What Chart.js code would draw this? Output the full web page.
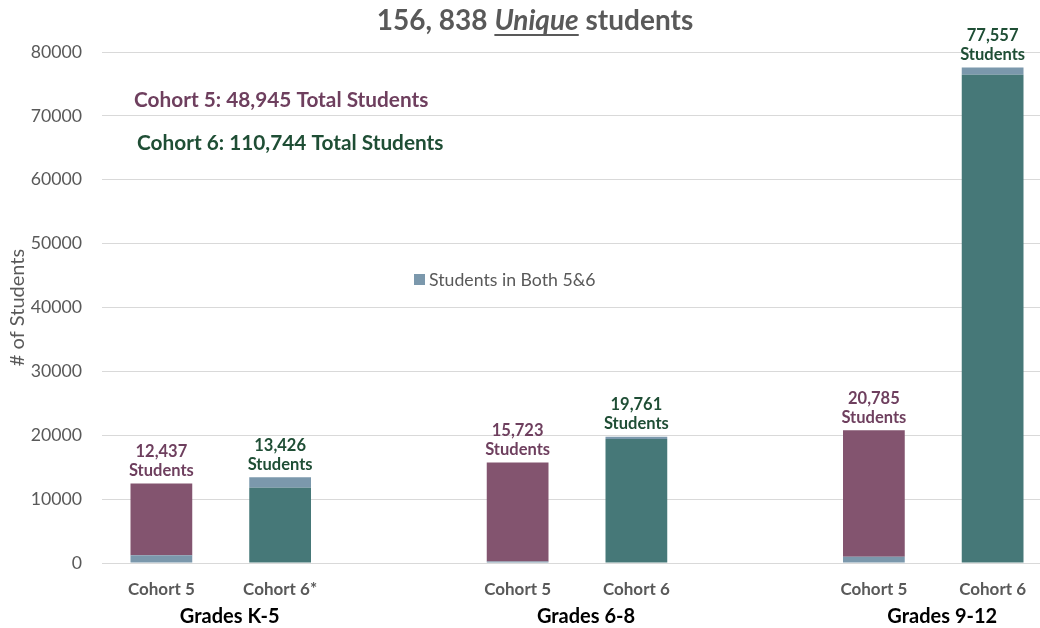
<!DOCTYPE html>
<html><head><meta charset="utf-8">
<script src="https://cdn.jsdelivr.net/npm/chart.js@4.4.0/dist/chart.umd.min.js"></script>
<style>
html,body{margin:0;padding:0;overflow:hidden;background:#fff;width:1040px;height:628px}
#wrap{width:1052px;height:628px;position:relative}
</style></head>
<body><div id="wrap"><canvas id="c"></canvas></div>
<script>
const categories = ["Cohort 5", "Cohort 6*", "", "Cohort 5", "Cohort 6", "", "Cohort 5", "Cohort 6"];
const groups = ["Grades K-5", "Grades 6-8", "Grades 9-12"];
const groupStart = [0, 3, 6];
const bothBottom = [1200, null, null, 250, null, null, 980, null];
const cohort5 = [11237, null, null, 15473, null, null, 19805, null];
const cohort6 = [null, 11800, null, null, 19400, null, null, 76457];
const bothTop = [null, 1626, null, null, 361, null, null, 1100];
const totals = [12437, 13426, null, 15723, 19761, null, 20785, 77557];
const cohortTotals = [48945, 110744];
const yTicks = [0, 10000, 20000, 30000, 40000, 50000, 60000, 70000, 80000];

const BOTH = '#7B98AC', PURPLE = '#83546F', TEAL = '#467878';
const PTXT = '#6E3F5E', GTXT = '#1F4E35', GRAY = '#595959';
const FONT = 'Lato, "Open Sans", sans-serif';
const fmt = v => v.toLocaleString('en-US');

const overlay = {
  id: 'overlay',
  afterDatasetsDraw(chart) {
    const ctx = chart.ctx, xs = chart.scales.x, ys = chart.scales.y;
    ctx.save();
    // title
    ctx.textBaseline = 'middle';
    ctx.textAlign = 'left';
    const f1 = 'bold 28px ' + FONT, f2 = 'italic bold 28px ' + FONT;
    const parts = [["156, 838 ", f1], ["Unique", f2], [" students", f1]];
    let w = 0;
    parts.forEach(p => { ctx.font = p[1]; w += ctx.measureText(p[0]).width; });
    let tx = 535 - w / 2;
    ctx.fillStyle = GRAY;
    parts.forEach((p, i) => {
      ctx.font = p[1];
      const pw = ctx.measureText(p[0]).width;
      ctx.fillText(p[0], tx, 21);
      if (i === 1) { ctx.fillRect(tx, 34, pw, 2); }
      tx += pw;
    });
    // bar labels
    ctx.textAlign = 'center';
    ctx.font = 'bold 16.5px ' + FONT;
    totals.forEach((t, i) => {
      if (t == null) return;
      const px = xs.getPixelForValue(i), py = ys.getPixelForValue(t);
      ctx.fillStyle = cohort5[i] != null ? PTXT : GTXT;
      ctx.fillText(fmt(t), px, py - 32);
      ctx.fillText('Students', px, py - 13);
    });
    // group labels
    ctx.font = 'bold 20px ' + FONT;
    ctx.fillStyle = '#000';
    groups.forEach((g, k) => {
      const i = groupStart[k];
      const px = (xs.getPixelForValue(i) + xs.getPixelForValue(i + 1)) / 2 + 9;
      ctx.fillText(g, px, 617);
    });
    // cohort totals
    ctx.textAlign = 'left';
    ctx.font = 'bold 20.8px ' + FONT;
    ctx.fillStyle = PTXT;
    ctx.fillText('Cohort 5: ' + fmt(cohortTotals[0]) + ' Total Students', 134, 100);
    ctx.fillStyle = GTXT;
    ctx.fillText('Cohort 6: ' + fmt(cohortTotals[1]) + ' Total Students', 137, 143);
    // legend
    ctx.fillStyle = BOTH;
    ctx.fillRect(414, 274, 11, 11);
    ctx.fillStyle = GRAY;
    ctx.font = '17.7px ' + FONT;
    ctx.fillText('Students in Both 5&6', 429, 280);
    ctx.restore();
  }
};

new Chart(document.getElementById('c'), {
  type: 'bar',
  data: {
    labels: categories,
    datasets: [
      { label: 'Students in Both 5&6', data: bothBottom, backgroundColor: BOTH, stack: 's' },
      { label: 'Cohort 5', data: cohort5, backgroundColor: PURPLE, stack: 's' },
      { label: 'Cohort 6', data: cohort6, backgroundColor: TEAL, stack: 's' },
      { label: 'Students in Both 5&6 ', data: bothTop, backgroundColor: BOTH, stack: 's' }
    ]
  },
  options: {
    responsive: true,
    maintainAspectRatio: false,
    animation: false,
    layout: { padding: { top: 52, left: 0, right: 0, bottom: 0 } },
    datasets: { bar: { categoryPercentage: 1, barPercentage: 0.52 } },
    plugins: { legend: { display: false }, tooltip: { enabled: false } },
    scales: {
      x: {
        stacked: true,
        grid: { display: false, drawTicks: false },
        border: { display: false },
        ticks: { color: GRAY, font: { family: FONT, size: 17, weight: 'bold' }, padding: 16, maxRotation: 0, autoSkip: false },
        afterFit: s => { s.height = 65; }
      },
      y: {
        stacked: true,
        min: 0, max: 80000,
        afterBuildTicks: s => { s.ticks = yTicks.map(v => ({ value: v })); },
        grid: { color: '#D9D9D9', drawTicks: false, lineWidth: 1 },
        border: { display: false },
        ticks: { color: GRAY, font: { family: FONT, size: 17.7 }, padding: 20, callback: v => String(v) },
        title: { display: true, text: '# of Students', color: GRAY, font: { family: FONT, size: 20 }, padding: { top: 6, bottom: 0 } },
        afterFit: s => { s.width = 102; }
      }
    }
  },
  plugins: [overlay]
});
</script>
</body></html>
